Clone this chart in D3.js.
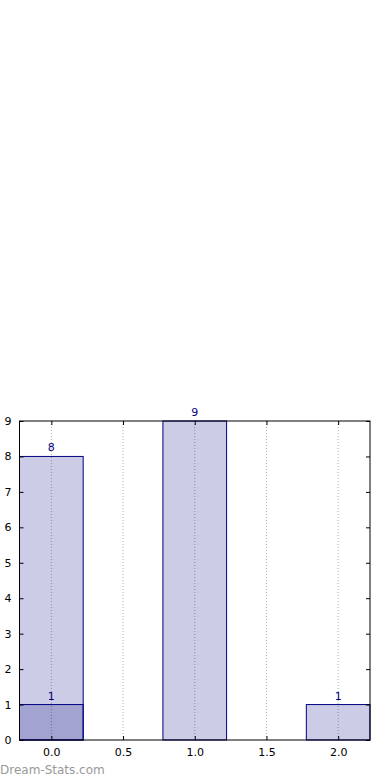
<!DOCTYPE html>
<html>
<head>
<meta charset="utf-8">
<script src="https://cdn.jsdelivr.net/npm/d3@7"></script>
<style>
  body { margin: 0; background: #fff; }
  svg { display: block; font-family: "DejaVu Sans", sans-serif; }
</style>
</head>
<body>
<div class="container"></div>
<script>
// data
const positions = [0, 1, 2];
const mainCounts = [8, 9, 1];
const overlayPositions = [0];
const overlayCounts = [1];
const xTicks = [0, 0.5, 1, 1.5, 2];
const yTicks = [0, 1, 2, 3, 4, 5, 6, 7, 8, 9];

const svgWidth = 390, svgHeight = 780;
const margin = { top: 421, right: 20, bottom: 40, left: 19.5 };
const width = 370 - margin.left;
const height = 740 - margin.top;
const barWidth = 0.444;

const svg = d3.select(".container").append("svg")
    .attr("width", svgWidth)
    .attr("height", svgHeight);

const chartGroup = svg.append("g")
    .attr("transform", `translate(${margin.left}, ${margin.top})`);

const x = d3.scaleLinear().domain([-0.222, 2.222]).range([0, width]);
const y = d3.scaleLinear().domain([0, 9]).range([height, 0]);

// vertical dotted grid
chartGroup.selectAll("line.grid")
    .data(xTicks)
    .enter()
    .append("line")
    .attr("class", "grid")
    .attr("x1", d => x(d)).attr("x2", d => x(d))
    .attr("y1", 0).attr("y2", height)
    .attr("stroke", "#b0b0b0")
    .attr("stroke-width", 1)
    .attr("stroke-dasharray", "1,2");

// bars
function drawBars(xs, vals) {
    chartGroup.selectAll(null)
        .data(xs.map((p, i) => ({ p: p, v: vals[i] })))
        .enter()
        .append("rect")
        .attr("x", d => x(d.p - barWidth / 2))
        .attr("y", d => y(d.v))
        .attr("width", d => x(d.p + barWidth / 2) - x(d.p - barWidth / 2))
        .attr("height", d => height - y(d.v))
        .attr("fill", "rgba(0,0,128,0.2)")
        .attr("stroke", "#000080")
        .attr("stroke-width", 1);

    chartGroup.selectAll(null)
        .data(xs.map((p, i) => ({ p: p, v: vals[i] })))
        .enter()
        .append("text")
        .attr("x", d => x(d.p))
        .attr("y", d => y(d.v) - 5)
        .attr("text-anchor", "middle")
        .attr("font-size", 11)
        .attr("fill", "#000080")
        .text(d => d.v);
}
drawBars(positions, mainCounts);
drawBars(overlayPositions, overlayCounts);

// axes
const bottomAxis = d3.axisBottom(x).tickValues(xTicks).tickFormat(d3.format(".1f"))
    .tickSizeInner(-4).tickSizeOuter(0).tickPadding(8);
const leftAxis = d3.axisLeft(y).tickValues(yTicks).tickFormat(d3.format("d"))
    .tickSizeInner(-4).tickSizeOuter(0).tickPadding(8);
const topAxis = d3.axisTop(x).tickValues(xTicks).tickFormat("").tickSizeInner(-4).tickSizeOuter(0);
const rightAxis = d3.axisRight(y).tickValues(yTicks).tickFormat("").tickSizeInner(-4).tickSizeOuter(0);

const axes = [
    chartGroup.append("g").attr("transform", `translate(0, ${height})`).call(bottomAxis),
    chartGroup.append("g").call(leftAxis),
    chartGroup.append("g").call(topAxis),
    chartGroup.append("g").attr("transform", `translate(${width}, 0)`).call(rightAxis)
];
axes.forEach(a => {
    a.select(".domain").remove();
    a.selectAll("line").attr("stroke", "#000");
    a.selectAll("text").attr("font-size", 11).attr("fill", "#000")
        .attr("font-family", "DejaVu Sans, sans-serif");
});

// frame
chartGroup.append("rect")
    .attr("x", 0).attr("y", 0)
    .attr("width", width).attr("height", height)
    .attr("fill", "none")
    .attr("stroke", "#000")
    .attr("stroke-width", 1);

// watermark
svg.append("text")
    .attr("x", 0)
    .attr("y", 774)
    .attr("font-size", 12)
    .attr("fill", "#999")
    .text("Dream-Stats.com");
</script>
</body>
</html>
